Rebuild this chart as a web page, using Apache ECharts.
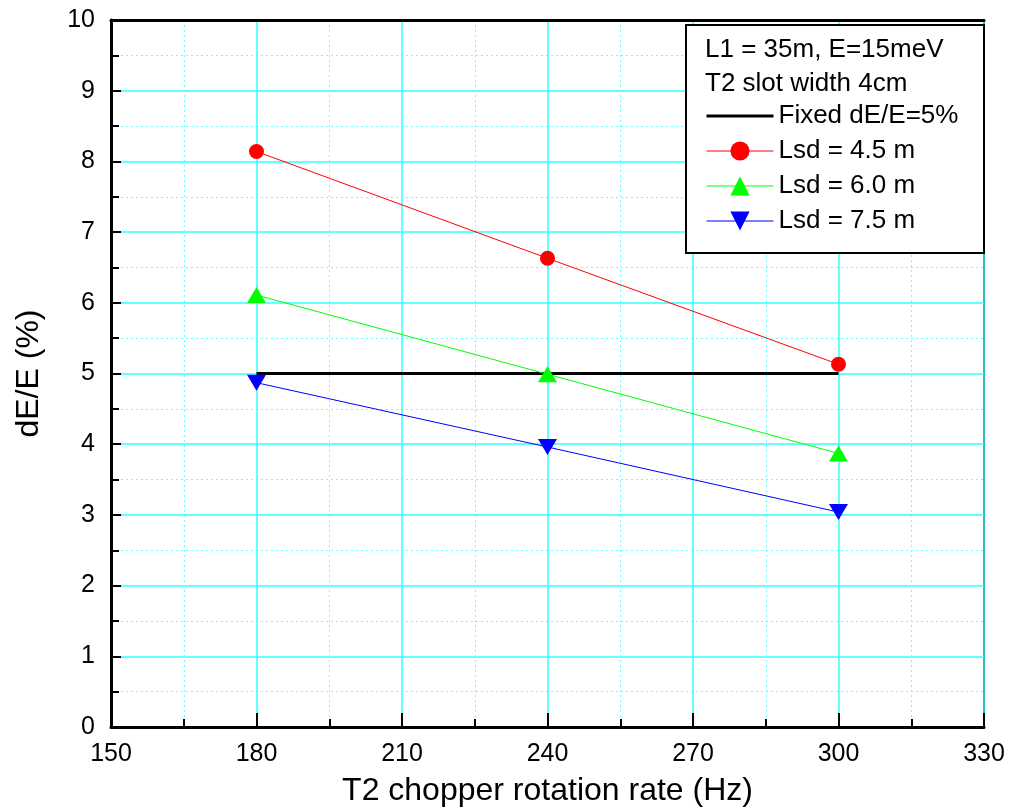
<!DOCTYPE html>
<html>
<head>
<meta charset="utf-8">
<script src="https://cdn.jsdelivr.net/npm/echarts@6/dist/echarts.min.js"></script>
<style>
html,body{margin:0;padding:0;background:#fff;}
#chart{width:1012px;height:812px;}
</style>
</head>
<body>
<div id="chart"></div>
<script>
var rates = [180, 240, 300];
var fixedLine = [5, 5, 5];
var lsd45 = [8.14, 6.63, 5.13];
var lsd60 = [6.11, 4.99, 3.87];
var lsd75 = [4.87, 3.96, 3.04];
var seriesNames = ['Fixed dE/E=5%', 'Lsd = 4.5 m', 'Lsd = 6.0 m', 'Lsd = 7.5 m'];
var infoLines = ['L1 = 35m, E=15meV', 'T2 slot width 4cm'];
var xTitle = 'T2 chopper rotation rate (Hz)';
var yTitle = 'dE/E (%)';

function pairs(xs, ys) { return xs.map(function (x, i) { return [x, ys[i]]; }); }

var FONT = "'Liberation Sans', Arial, sans-serif";
var downTri = 'path://M0,0 L10,0 L5,8.6 Z';
var upTri = 'path://M5,0 L10,8.6 L0,8.6 Z';

var chart = echarts.init(document.getElementById('chart'));
chart.setOption({
  animation: false,
  backgroundColor: '#fff',
  grid: { left: 111, top: 20, width: 873, height: 710, show: true, borderColor: '#000', borderWidth: 2, backgroundColor: 'transparent' },
  xAxis: [{
    type: 'value', min: 150, max: 330, interval: 30, position: 'bottom',
    name: xTitle, nameLocation: 'middle', nameGap: 48,
    nameTextStyle: { fontFamily: FONT, fontSize: 32, color: '#000' },
    axisLine: { show: true, onZero: false, lineStyle: { color: '#000', width: 3 } },
    axisTick: { show: true, inside: true, length: 14, lineStyle: { color: '#000', width: 2 } },
    minorTick: { show: true, splitNumber: 2, length: 8, lineStyle: { color: '#000', width: 2 } },
    axisLabel: { fontFamily: FONT, fontSize: 25, color: '#000', margin: 15 },
    splitLine: { show: true, lineStyle: { color: '#33ffff', width: 1.5 } },
    minorSplitLine: { show: true, lineStyle: { color: '#66ffff', width: 1, type: [2, 3] } }
  }, {
    type: 'value', min: 150, max: 330, interval: 30, position: 'top',
    axisLine: { show: true, onZero: false, lineStyle: { color: '#000', width: 3 } },
    axisTick: { show: false }, axisLabel: { show: false }, splitLine: { show: false }
  }],
  yAxis: {
    type: 'value', min: 0, max: 10, interval: 1,
    name: yTitle, nameLocation: 'middle', nameGap: 66, nameRotate: 90,
    nameTextStyle: { fontFamily: FONT, fontSize: 32, color: '#000' },
    axisLine: { show: true, onZero: false, lineStyle: { color: '#000', width: 3 } },
    axisTick: { show: true, inside: true, length: 10, lineStyle: { color: '#000', width: 2 } },
    minorTick: { show: true, splitNumber: 2, length: 8, lineStyle: { color: '#000', width: 2 } },
    axisLabel: { fontFamily: FONT, fontSize: 25, color: '#000', margin: 16 },
    splitLine: { show: true, lineStyle: { color: '#33ffff', width: 1.5 } },
    minorSplitLine: { show: true, lineStyle: { color: '#66ffff', width: 1, type: [2, 3] } }
  },
  legend: {
    show: true, orient: 'vertical', left: 705, top: 103, z: 100,
    itemWidth: 67, itemHeight: 24, itemGap: 9, padding: 0,
    textStyle: { fontFamily: FONT, fontSize: 26, lineHeight: 24, color: '#000' },
    data: [
      { name: seriesNames[0], itemStyle: { opacity: 0 }, lineStyle: { width: 3, color: '#000' } },
      { name: seriesNames[1], lineStyle: { width: 1 } },
      { name: seriesNames[2], lineStyle: { width: 1 } },
      { name: seriesNames[3], lineStyle: { width: 1 } }
    ]
  },
  graphic: [
    { type: 'rect', left: 685, top: 24, z: 90, shape: { width: 298, height: 228 }, style: { fill: '#fff', stroke: '#000', lineWidth: 2 } },
    { type: 'text', left: 705, top: 37, z: 91, style: { text: infoLines[0], font: '26px ' + FONT, fill: '#000' } },
    { type: 'text', left: 705, top: 71, z: 91, style: { text: infoLines[1], font: '26px ' + FONT, fill: '#000' } }
  ],
  series: [
    { name: seriesNames[0], type: 'line', data: pairs(rates, fixedLine), symbol: 'none', lineStyle: { color: '#000', width: 3 }, itemStyle: { color: '#000' }, z: 3 },
    { name: seriesNames[1], type: 'line', data: pairs(rates, lsd45), symbol: 'circle', symbolSize: 15, lineStyle: { color: '#ff0000', width: 1 }, itemStyle: { color: '#ff0000' }, z: 4 },
    { name: seriesNames[2], type: 'line', data: pairs(rates, lsd60), symbol: upTri, symbolSize: [19, 16], lineStyle: { color: '#00ff00', width: 1 }, itemStyle: { color: '#00ff00' }, z: 4 },
    { name: seriesNames[3], type: 'line', data: pairs(rates, lsd75), symbol: downTri, symbolSize: [19, 16], lineStyle: { color: '#0000ff', width: 1 }, itemStyle: { color: '#0000ff' }, z: 4 }
  ]
});
</script>
</body>
</html>
